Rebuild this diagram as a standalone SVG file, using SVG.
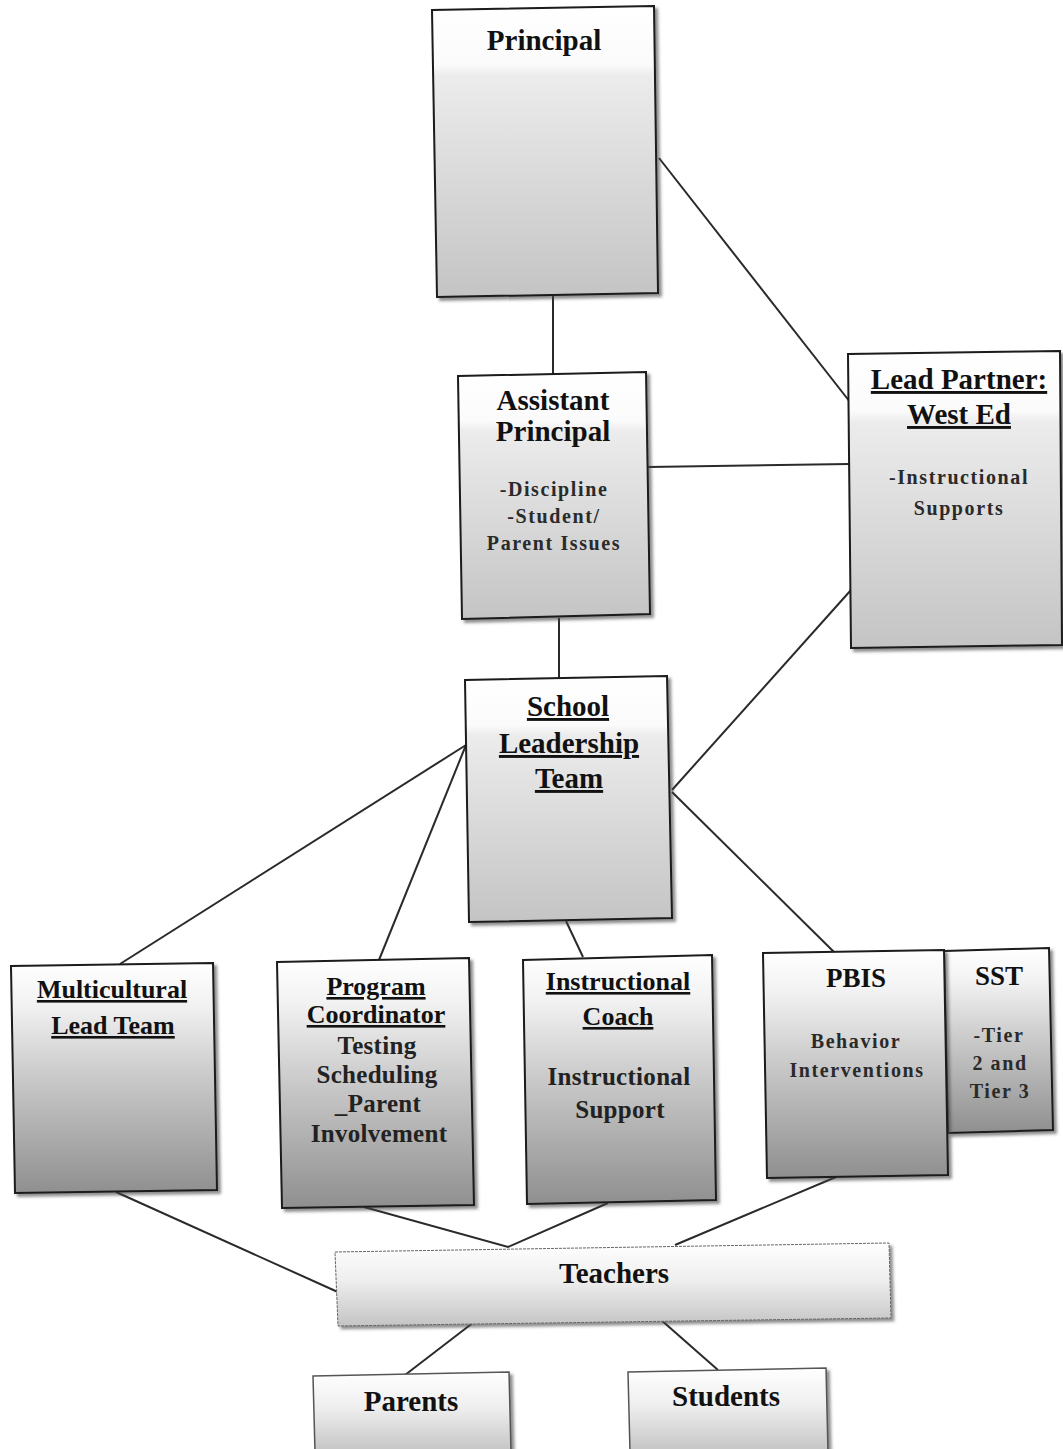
<svg xmlns="http://www.w3.org/2000/svg" width="1063" height="1449" viewBox="0 0 1063 1449">
  <defs>
    <linearGradient id="gTop" x1="0" y1="0" x2="0" y2="1">
      <stop offset="0" stop-color="#ffffff"/>
      <stop offset="0.2" stop-color="#fbfbfb"/>
      <stop offset="0.24" stop-color="#ececec"/>
      <stop offset="1" stop-color="#c4c4c4"/>
    </linearGradient>
    <linearGradient id="gLow" x1="0" y1="0" x2="0" y2="1">
      <stop offset="0" stop-color="#ffffff"/>
      <stop offset="0.18" stop-color="#f2f2f2"/>
      <stop offset="0.45" stop-color="#cfcfcf"/>
      <stop offset="1" stop-color="#8f8f8f"/>
    </linearGradient>
    <linearGradient id="gBar" x1="0" y1="0" x2="0" y2="1">
      <stop offset="0" stop-color="#ffffff"/>
      <stop offset="0.45" stop-color="#eeeeee"/>
      <stop offset="1" stop-color="#c4c4c4"/>
    </linearGradient>
    <filter id="shadow" x="-10%" y="-10%" width="125%" height="125%">
      <feDropShadow dx="3" dy="3" stdDeviation="1.5" flood-color="#444" flood-opacity="0.6"/>
    </filter>
  </defs>
  <style>
    .box { stroke: #1a1a1a; stroke-width: 2; filter: url(#shadow); }
    .t { font-family: "Liberation Serif", "Times New Roman", serif; font-weight: bold; fill: #111; text-anchor: middle; }
    .big { font-size: 29px; }
    .mid { font-size: 26px; }
    .mid2 { font-size: 25px; letter-spacing: 0.3px; fill: #222; }
    .sm { font-size: 20px; letter-spacing: 1.6px; fill: #2a2a2a; }
    .u { text-decoration: underline; }
    .link { stroke: #2a2a2a; stroke-width: 2; fill: none; }
  </style>

  <rect width="1063" height="1449" fill="#ffffff"/>

  <!-- connectors -->
  <g id="connectors">
    <line class="link" x1="553" y1="296" x2="553" y2="374"/>
    <line class="link" x1="659" y1="158" x2="850" y2="402"/>
    <line class="link" x1="648" y1="467" x2="849" y2="464"/>
    <line class="link" x1="559" y1="618" x2="559" y2="678"/>
    <line class="link" x1="851" y1="590" x2="672" y2="790"/>
    <line class="link" x1="466" y1="745" x2="120" y2="964"/>
    <line class="link" x1="466" y1="745" x2="379" y2="960"/>
    <line class="link" x1="566" y1="921" x2="583" y2="957"/>
    <line class="link" x1="672" y1="792" x2="834" y2="952"/>
    <line class="link" x1="116" y1="1192" x2="340" y2="1293"/>
    <polyline class="link" points="364,1207 508,1247 608,1203"/>
    <line class="link" x1="836" y1="1177" x2="675" y2="1245"/>
    <line class="link" x1="474" y1="1322" x2="405" y2="1375"/>
    <line class="link" x1="660" y1="1319" x2="718" y2="1370"/>
  </g>

  <!-- Principal -->
  <g id="principal">
    <polygon class="box" fill="url(#gTop)" points="432,10 654,6 658,293 437,297"/>
    <text class="t big" x="544" y="50">Principal</text>
  </g>

  <!-- Assistant Principal -->
  <g id="assistant-principal">
    <polygon class="box" fill="url(#gTop)" points="458,376 646,372 650,614 462,619"/>
    <text class="t big" x="553" y="410">Assistant</text>
    <text class="t big" x="553" y="441">Principal</text>
    <text class="t sm" x="554" y="496">-Discipline</text>
    <text class="t sm" x="554" y="523">-Student/</text>
    <text class="t sm" x="554" y="550">Parent Issues</text>
  </g>

  <!-- Lead Partner -->
  <g id="lead-partner">
    <polygon class="box" fill="url(#gTop)" points="848,354 1060,351 1062,645 851,648"/>
    <text class="t big u" x="959" y="389">Lead Partner:</text>
    <text class="t big u" x="959" y="424">West Ed</text>
    <text class="t sm" x="959" y="484">-Instructional</text>
    <text class="t sm" x="959" y="515">Supports</text>
  </g>

  <!-- School Leadership Team -->
  <g id="school-leadership-team">
    <polygon class="box" fill="url(#gTop)" points="465,680 667,676 672,918 469,922"/>
    <text class="t big u" x="568" y="716">School</text>
    <text class="t big u" x="569" y="753">Leadership</text>
    <text class="t big u" x="569" y="788">Team</text>
  </g>

  <!-- Multicultural Lead Team -->
  <g id="multicultural">
    <polygon class="box" fill="url(#gLow)" points="11,966 213,963 217,1190 15,1193"/>
    <text class="t mid u" x="112" y="998">Multicultural</text>
    <text class="t mid u" x="113" y="1034">Lead Team</text>
  </g>

  <!-- Program Coordinator -->
  <g id="program-coordinator">
    <polygon class="box" fill="url(#gLow)" points="277,962 469,958 474,1205 282,1208"/>
    <text class="t mid u" x="376" y="995">Program</text>
    <text class="t mid u" x="376" y="1023">Coordinator</text>
    <text class="t mid2" x="377" y="1054">Testing</text>
    <text class="t mid2" x="377" y="1083">Scheduling</text>
    <text class="t mid2" x="378" y="1112">_Parent</text>
    <text class="t mid2" x="379" y="1142">Involvement</text>
  </g>

  <!-- Instructional Coach -->
  <g id="instructional-coach">
    <polygon class="box" fill="url(#gLow)" points="523,960 712,955 716,1200 527,1204"/>
    <text class="t mid u" x="618" y="990">Instructional</text>
    <text class="t mid u" x="618" y="1025">Coach</text>
    <text class="t mid2" x="619" y="1085">Instructional</text>
    <text class="t mid2" x="620" y="1118">Support</text>
  </g>

  <!-- SST -->
  <g id="sst">
    <polygon class="box" fill="url(#gLow)" points="944,951 1049,948 1053,1130 948,1133"/>
    <text class="t big" x="999" y="985" style="font-size:27px">SST</text>
    <text class="t sm" x="999" y="1042">-Tier</text>
    <text class="t sm" x="1000" y="1070">2 and</text>
    <text class="t sm" x="1000" y="1098">Tier 3</text>
  </g>

  <!-- PBIS -->
  <g id="pbis">
    <polygon class="box" fill="url(#gLow)" points="763,953 944,950 948,1175 767,1178"/>
    <text class="t big" x="856" y="987" style="font-size:27px">PBIS</text>
    <text class="t sm" x="856" y="1048">Behavior</text>
    <text class="t sm" x="857" y="1077">Interventions</text>
  </g>

  <!-- Teachers -->
  <g id="teachers">
    <polygon class="box" fill="url(#gBar)" stroke-dasharray="3 1" style="stroke:#666;stroke-width:1" points="335,1252 889,1243 891,1318 338,1326"/>
    <text class="t big" x="614" y="1283">Teachers</text>
  </g>

  <!-- Parents -->
  <g id="parents">
    <polygon class="box" fill="url(#gBar)" style="stroke:#555;stroke-width:1.5" points="313,1376 509,1372 511,1452 315,1452"/>
    <text class="t big" x="411" y="1411">Parents</text>
  </g>

  <!-- Students -->
  <g id="students">
    <polygon class="box" fill="url(#gBar)" style="stroke:#555;stroke-width:1.5" points="628,1372 826,1368 828,1452 630,1452"/>
    <text class="t big" x="726" y="1406">Students</text>
  </g>
</svg>
